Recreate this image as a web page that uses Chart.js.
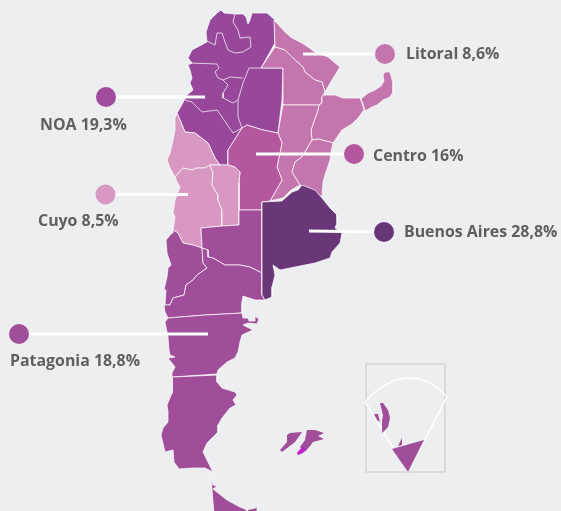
<!DOCTYPE html>
<html>
<head>
<meta charset="utf-8">
<title>Argentina por region</title>
<script src="https://cdn.jsdelivr.net/npm/chart.js@4"></script>
<style>
    html, body { margin: 0; padding: 0; background: #eceef0; }
    canvas { display: block; }
</style>
</head>
<body>
<canvas id="mapChart" width="561" height="511"></canvas>
<script>
// region labels and shares
const regions = ['Litoral', 'Centro', 'Buenos Aires', 'NOA', 'Cuyo', 'Patagonia'];
const shares = ['8,6%', '16%', '28,8%', '19,3%', '8,5%', '18,8%'];

// province outlines (map units = px of the reference)
const noa = [[221,10],[224,13],[235,14],[243,14],[246,17],[248,24],[250,20],[252,13],[267,13],[275,20],[275,43],[261,68],[283,68],[282,100],[278,133],[263,130],[247,125],[242,128],[228,150],[228,165],[220,165],[215,158],[208,143],[195,133],[185,132],[177,113],[180,108],[187,95],[193,90],[190,83],[192,78],[190,70],[188,65],[192,63],[188,58],[192,50],[205,43],[207,42],[206,32],[210,20],[217,13]];
const santiago = [[249,68],[283,68],[282,100],[278,133],[263,130],[247,125],[242,128],[238,117],[238,100],[243,83]];
const formosa = [[274,20],[285,32],[292,38],[302,43],[315,52],[328,57],[340,67],[332,80],[325,92],[322,82],[315,80],[305,72],[303,67],[293,58],[285,50],[275,47]];
const chaco = [[275,47],[285,50],[293,58],[303,67],[305,72],[315,80],[322,82],[325,92],[322,97],[322,103],[319,105],[283,105],[283,68],[261,68]];
const corrientes = [[323,95],[335,95],[343,98],[360,98],[362,103],[364,110],[358,118],[352,124],[342,130],[333,143],[330,142],[318,139],[312,140],[311,130],[318,110],[319,105],[322,103],[322,97]];
const misiones = [[383,75],[385,72],[390,72],[393,83],[393,92],[390,97],[383,100],[377,105],[372,107],[365,111],[363,104],[361,99],[368,93],[375,90],[381,86],[384,81]];
const santaFe = [[283,105],[319,105],[318,110],[311,130],[312,140],[302,157],[295,162],[292,172],[300,185],[291,190],[283,198],[270,201],[282,180],[277,167],[282,143],[278,133],[282,110]];
const entreRios = [[312,140],[318,139],[330,142],[333,143],[331,152],[330,160],[325,175],[323,182],[322,197],[312,190],[303,187],[300,185],[292,172],[295,162],[302,157]];
const buenosAires = [[302,185],[315,190],[322,198],[330,208],[337,215],[337,223],[335,228],[342,233],[340,243],[332,252],[330,258],[315,263],[295,267],[280,270],[273,265],[275,275],[272,287],[272,297],[265,300],[262,295],[262,202],[282,201],[292,192],[298,190]];
const cordoba = [[247,125],[263,130],[278,133],[282,143],[277,167],[282,180],[270,201],[262,202],[262,210],[239,210],[239,183],[240,172],[235,167],[228,165],[228,150],[242,128]];
const sanLuis = [[210,165],[228,165],[235,167],[240,172],[239,183],[239,225],[222,226],[222,210],[218,200],[218,195],[212,185],[213,173]];
const sanJuan = [[177,113],[185,132],[195,133],[208,143],[215,158],[220,165],[210,165],[205,168],[197,168],[192,170],[183,168],[175,177],[170,168],[167,160],[170,153],[173,140],[175,130],[175,118]];
const mendoza = [[175,177],[183,168],[192,170],[197,168],[205,168],[210,165],[213,173],[212,185],[218,195],[218,200],[222,210],[222,226],[201,228],[202,248],[193,245],[183,243],[178,233],[173,230],[175,217],[173,213],[175,200],[180,187],[177,182]];
const laPampa = [[201,228],[222,226],[239,225],[239,210],[262,210],[262,273],[250,267],[240,265],[225,265],[213,258],[208,257],[208,250],[202,248]];
const neuquen = [[173,230],[178,233],[183,243],[193,245],[202,248],[203,263],[207,268],[197,275],[193,280],[186,285],[184,295],[173,298],[170,305],[165,305],[166,290],[164,290],[167,277],[168,268],[171,265],[167,253],[166,240],[172,233]];
const rioNegro = [[202,248],[208,250],[208,257],[213,258],[225,265],[240,265],[250,267],[262,273],[262,295],[265,300],[255,300],[243,296],[242,302],[242,313],[205,315],[168,318],[165,312],[164,305],[170,305],[173,298],[184,295],[186,285],[193,280],[197,275],[207,268],[203,263]];
const chubut = [[168,318],[205,315],[242,313],[243,318],[248,318],[249,321],[255,321],[255,316],[259,319],[257,324],[248,323],[243,325],[253,330],[242,335],[240,342],[238,352],[235,358],[227,362],[218,370],[217,374],[173,377],[172,373],[175,367],[168,358],[175,357],[170,355],[169,350],[168,337],[165,322]];
const santaCruz = [[173,377],[217,375],[217,382],[222,388],[235,392],[237,395],[233,400],[236,405],[230,408],[222,418],[218,425],[218,432],[212,438],[207,443],[203,452],[207,460],[213,472],[205,468],[193,468],[179,469],[174,462],[173,450],[165,452],[161,435],[163,428],[168,422],[168,412],[167,405],[172,393],[172,378]];
const tierraDelFuego = [[211,477],[213,485],[217,486],[213,489],[227,500],[240,507],[245,509],[250,514],[214,514]];
const tierraEast = [[248,510],[257,508],[256,512],[248,514]];
const malvinasWest = [[287,435],[290,433],[302,432],[295,442],[282,452],[280,450],[287,442]];
const malvinasEast = [[307,430],[315,430],[324,433],[318,436],[324,439],[313,442],[310,446],[305,452],[300,447],[305,440]];
const malvinasMark = [[297,453],[302,447],[306,448],[303,453],[298,455]];

// inner province borders of NOA
const borderJujuy = [[235,14],[233,22],[238,30],[240,38],[250,37],[251,47],[243,52],[235,53],[228,50],[225,42],[222,33],[217,33],[215,45],[207,41]];
const borderSalta = [[190,63],[217,64],[219,68],[215,72],[218,78],[223,80],[230,77],[243,78]];
const borderTucuman = [[223,80],[228,85],[223,93],[223,98],[233,103],[238,100]];
const borderCatamarca = [[185,100],[192,102],[202,112],[217,110],[222,117],[233,133],[242,128]];

// inset with the antarctic sector
const insetFrame = [[366,364],[445,364],[445,472],[366,472],[366,364]];
const insetSector = [[365,402],[375,392],[385,385],[395,380],[407,378],[420,379],[432,384],[440,390],[447,397],[408,472],[365,402]];
const antarctica = [[392,449],[424,440],[408,472]];
const antarcticaTip = [[398,446],[402,438],[402,445]];
const insetIsland = [[380,403],[383,403],[388,410],[390,418],[388,427],[382,433],[382,422],[383,415]];
const insetIslet = [[374,414],[378,414],[380,422],[377,420]];

// callouts: dot and where the leader ends inside the map
const dots = [[385,54],[354,154],[384,232],[106,97],[105.5,194.5],[19,334]];
const leaderEnds = [[303,54],[256,154],[309,231],[205,97],[188,194.5],[208,334]];
const labelAnchors = [[406,59],[373,161],[404,237],[40,130],[38,226],[10,366]];

const colorNoa = '#97489a';
const colorPatagonia = '#a04e9a';
const colorLitoral = '#c475ad';
const colorCentro = '#b5579f';
const colorCuyo = '#d898c2';
const colorBuenosAires = '#693777';
const borderColor = 'rgba(255,255,255,0.8)';
const dotColors = [colorLitoral, colorCentro, colorBuenosAires, '#a04c9b', colorCuyo, colorPatagonia];

function pts(list) {
    return list.map(p => ({ x: p[0], y: p[1] }));
}

function shape(list, color, stroke) {
    return {
        data: pts(list.concat([list[0]])),
        showLine: true,
        fill: 'shape',
        backgroundColor: color,
        borderColor: stroke === undefined ? borderColor : 'transparent',
        borderWidth: stroke === null ? 0 : 0.9,
        pointRadius: 0
    };
}

function line(list, color, width) {
    return {
        data: pts(list),
        showLine: true,
        fill: false,
        borderColor: color,
        borderWidth: width,
        pointRadius: 0
    };
}

let layers = [];
[noa, santiago].forEach(s => layers.push(shape(s, colorNoa)));
[borderJujuy, borderSalta, borderTucuman, borderCatamarca].forEach(b => layers.push(line(b, borderColor, 0.9)));
[formosa, chaco, corrientes, misiones, santaFe, entreRios].forEach(s => layers.push(shape(s, colorLitoral)));
layers.push(shape(cordoba, colorCentro));
[sanJuan, mendoza, sanLuis].forEach(s => layers.push(shape(s, colorCuyo)));
[laPampa, neuquen, rioNegro, chubut, santaCruz, tierraDelFuego].forEach(s => layers.push(shape(s, colorPatagonia)));
[tierraEast, malvinasWest, malvinasEast].forEach(s => layers.push(shape(s, colorPatagonia, null)));
layers.push(shape(malvinasMark, '#c020c8', null));
layers.push(shape(buenosAires, colorBuenosAires));

layers.push(line(insetFrame, '#d3d3d3', 1.5));
layers.push(line(insetSector, '#ffffff', 1.5));
[antarctica, antarcticaTip, insetIsland, insetIslet].forEach(s => layers.push(shape(s, colorPatagonia, null)));

dots.forEach((d, i) => layers.push(line([d, leaderEnds[i]], '#ffffff', 3)));
layers.push({
    data: pts(dots),
    showLine: false,
    pointRadius: 10,
    pointBorderWidth: 0,
    pointBackgroundColor: dotColors
});

// chart.js paints the first dataset on top, the layers are listed bottom first
layers.reverse();

const regionLabels = {
    id: 'regionLabels',
    afterDatasetsDraw(chart) {
        const ctx = chart.ctx;
        ctx.save();
        ctx.font = '700 15.9px "Open Sans"';
        ctx.fillStyle = '#5f5f60';
        ctx.textBaseline = 'alphabetic';
        regions.forEach((r, i) => {
            let x = chart.scales.x.getPixelForValue(labelAnchors[i][0]);
            let y = chart.scales.y.getPixelForValue(labelAnchors[i][1]);
            ctx.fillText(r + ' ' + shares[i], x, y);
        });
        ctx.restore();
    }
};

new Chart(document.getElementById('mapChart').getContext('2d'), {
    type: 'scatter',
    data: { datasets: layers },
    plugins: [regionLabels],
    options: {
        responsive: false,
        animation: false,
        layout: { padding: 0, autoPadding: false },
        elements: { line: { tension: 0, borderJoinStyle: 'round' } },
        plugins: { legend: { display: false }, tooltip: { enabled: false } },
        scales: {
            x: { type: 'linear', min: 0, max: 561, display: false },
            y: { type: 'linear', min: 0, max: 511, reverse: true, display: false }
        }
    }
});
</script>
</body>
</html>
